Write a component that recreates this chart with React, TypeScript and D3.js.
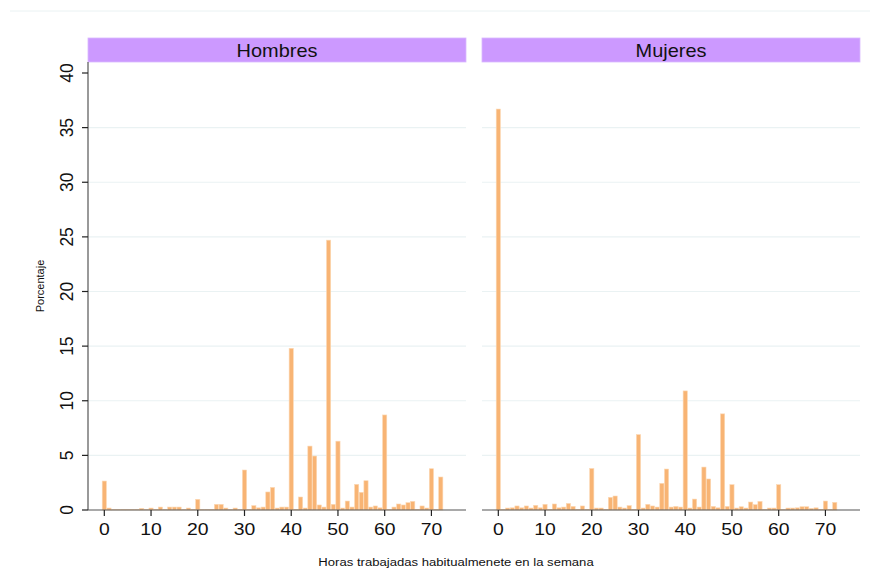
import React from "react";
import * as d3 from "d3";

// horas 0..72, porcentaje por hora
const hours = d3.range(0, 73);

const hombres = [
  2.65, 0.18, 0.05, 0.05, 0.05, 0.05, 0.05, 0.05, 0.15, 0.05,
  0.18, 0.05, 0.27, 0.05, 0.27, 0.27, 0.27, 0.05, 0.18, 0.05,
  0.98, 0.05, 0.05, 0.05, 0.52, 0.52, 0.18, 0.05, 0.18, 0.05,
  3.66, 0.05, 0.4, 0.2, 0.27, 1.65, 2.07, 0.18, 0.27, 0.27,
  14.8, 0.05, 1.19, 0.18, 5.85, 4.94, 0.46, 0.27, 24.7, 0.52,
  6.3, 0.18, 0.82, 0.27, 2.35, 1.62, 2.68, 0.27, 0.37, 0.2,
  8.7, 0.05, 0.27, 0.55, 0.46, 0.67, 0.79, 0.05, 0.37, 0.18,
  3.78, 0.05, 3.02,
];

const mujeres = [
  36.7, 0.05, 0.18, 0.2, 0.37, 0.2, 0.37, 0.18, 0.43, 0.2,
  0.52, 0.05, 0.55, 0.2, 0.27, 0.6, 0.33, 0.05, 0.37, 0.05,
  3.8, 0.18, 0.18, 0.05, 1.16, 1.28, 0.27, 0.18, 0.4, 0.05,
  6.9, 0.18, 0.52, 0.37, 0.27, 2.44, 3.75, 0.27, 0.33, 0.27,
  10.9, 0.18, 1.0, 0.27, 3.93, 2.84, 0.33, 0.2, 8.8, 0.33,
  2.32, 0.18, 0.3, 0.18, 0.73, 0.49, 0.79, 0.05, 0.18, 0.18,
  2.32, 0.05, 0.18, 0.18, 0.2, 0.3, 0.3, 0.15, 0.2, 0.05,
  0.82, 0.05, 0.7,
];

const panels = [
  { title: "Hombres", values: hombres, left: 88 },
  { title: "Mujeres", values: mujeres, left: 482 },
];

const xTicks = [0, 10, 20, 30, 40, 50, 60, 70];
const yTicks = [0, 5, 10, 15, 20, 25, 30, 35, 40];

const W = 879;
const H = 569;
const panelW = 378;
const stripTop = 38;
const plotTop = 62;
const plotBottom = 510;
const stretch = 1.14; // el texto original sale algo ensanchado

const y = d3.scaleLinear().domain([0, 40]).range([plotBottom, 73]);

const font = "Liberation Sans, Arial, sans-serif";

function HText({ x, y, size, children }: any) {
  return (
    <text
      transform={`translate(${x},${y}) scale(${stretch},1)`}
      textAnchor="middle"
      fontSize={size}
      fontFamily={font}
      fill="#111"
    >
      {children}
    </text>
  );
}

function Panel({ title, values, left, showY }: any) {
  const x = d3.scaleLinear().domain([-3.49, 77.4]).range([left, left + panelW]);
  const bw = x(0.9) - x(0);
  return (
    <g>
      <rect x={left} y={stripTop} width={panelW} height={plotTop - stripTop} fill="#CC99FF" stroke="#D9B8FF" strokeWidth={0.8} />
      <HText x={left + panelW / 2} y={56.5} size={17.5}>
        {title}
      </HText>
      {yTicks.filter((t) => t > 0 && t < 40).map((t) => (
        <line key={t} x1={left} x2={left + panelW} y1={y(t)} y2={y(t)} stroke="#EAF2F3" strokeWidth={1.2} />
      ))}
      {hours.map((h, i) => (
        <rect
          key={h}
          x={x(h) - bw / 2}
          y={y(values[i])}
          width={bw}
          height={y(0) - y(values[i])}
          fill="#F8B474"
          stroke="#FCD9B6"
          strokeWidth={0.6}
        />
      ))}
      <line x1={left} x2={left + panelW} y1={plotBottom} y2={plotBottom} stroke="#555" strokeWidth={1.2} />
      {xTicks.map((t) => (
        <g key={t}>
          <line x1={x(t)} x2={x(t)} y1={plotBottom} y2={plotBottom + 6} stroke="#222" strokeWidth={1.2} />
          <HText x={x(t)} y={535} size={17}>
            {t}
          </HText>
        </g>
      ))}
      {showY && (
        <g>
          <line x1={left} x2={left} y1={plotTop} y2={plotBottom} stroke="#555" strokeWidth={1.2} />
          {yTicks.map((t) => (
            <g key={t}>
              <line x1={left - 6} x2={left} y1={y(t)} y2={y(t)} stroke="#222" strokeWidth={1.2} />
              <text
                transform={`translate(${left - 15},${y(t)}) rotate(-90)`}
                textAnchor="middle"
                fontSize={17.5}
                fontFamily={font}
                fill="#111"
              >
                {t}
              </text>
            </g>
          ))}
        </g>
      )}
    </g>
  );
}

export default function App() {
  return (
    <svg width={W} height={H} style={{ position: "absolute", left: 0, top: 0, background: "#fff" }}>
      <rect width={W} height={H} fill="#fff" />
      <line x1={10} x2={870} y1={11} y2={11} stroke="#EAF2F3" strokeWidth={1} />
      {panels.map((p, i) => (
        <Panel key={p.title} {...p} showY={i === 0} />
      ))}
      <text transform={`translate(44,${(plotTop + plotBottom) / 2}) rotate(-90)`} textAnchor="middle" fontSize={11} fontFamily={font} fill="#111">
        Porcentaje
      </text>
      <HText x={456} y={566} size={11.5}>
        Horas trabajadas habitualmenete en la semana
      </HText>
    </svg>
  );
}
